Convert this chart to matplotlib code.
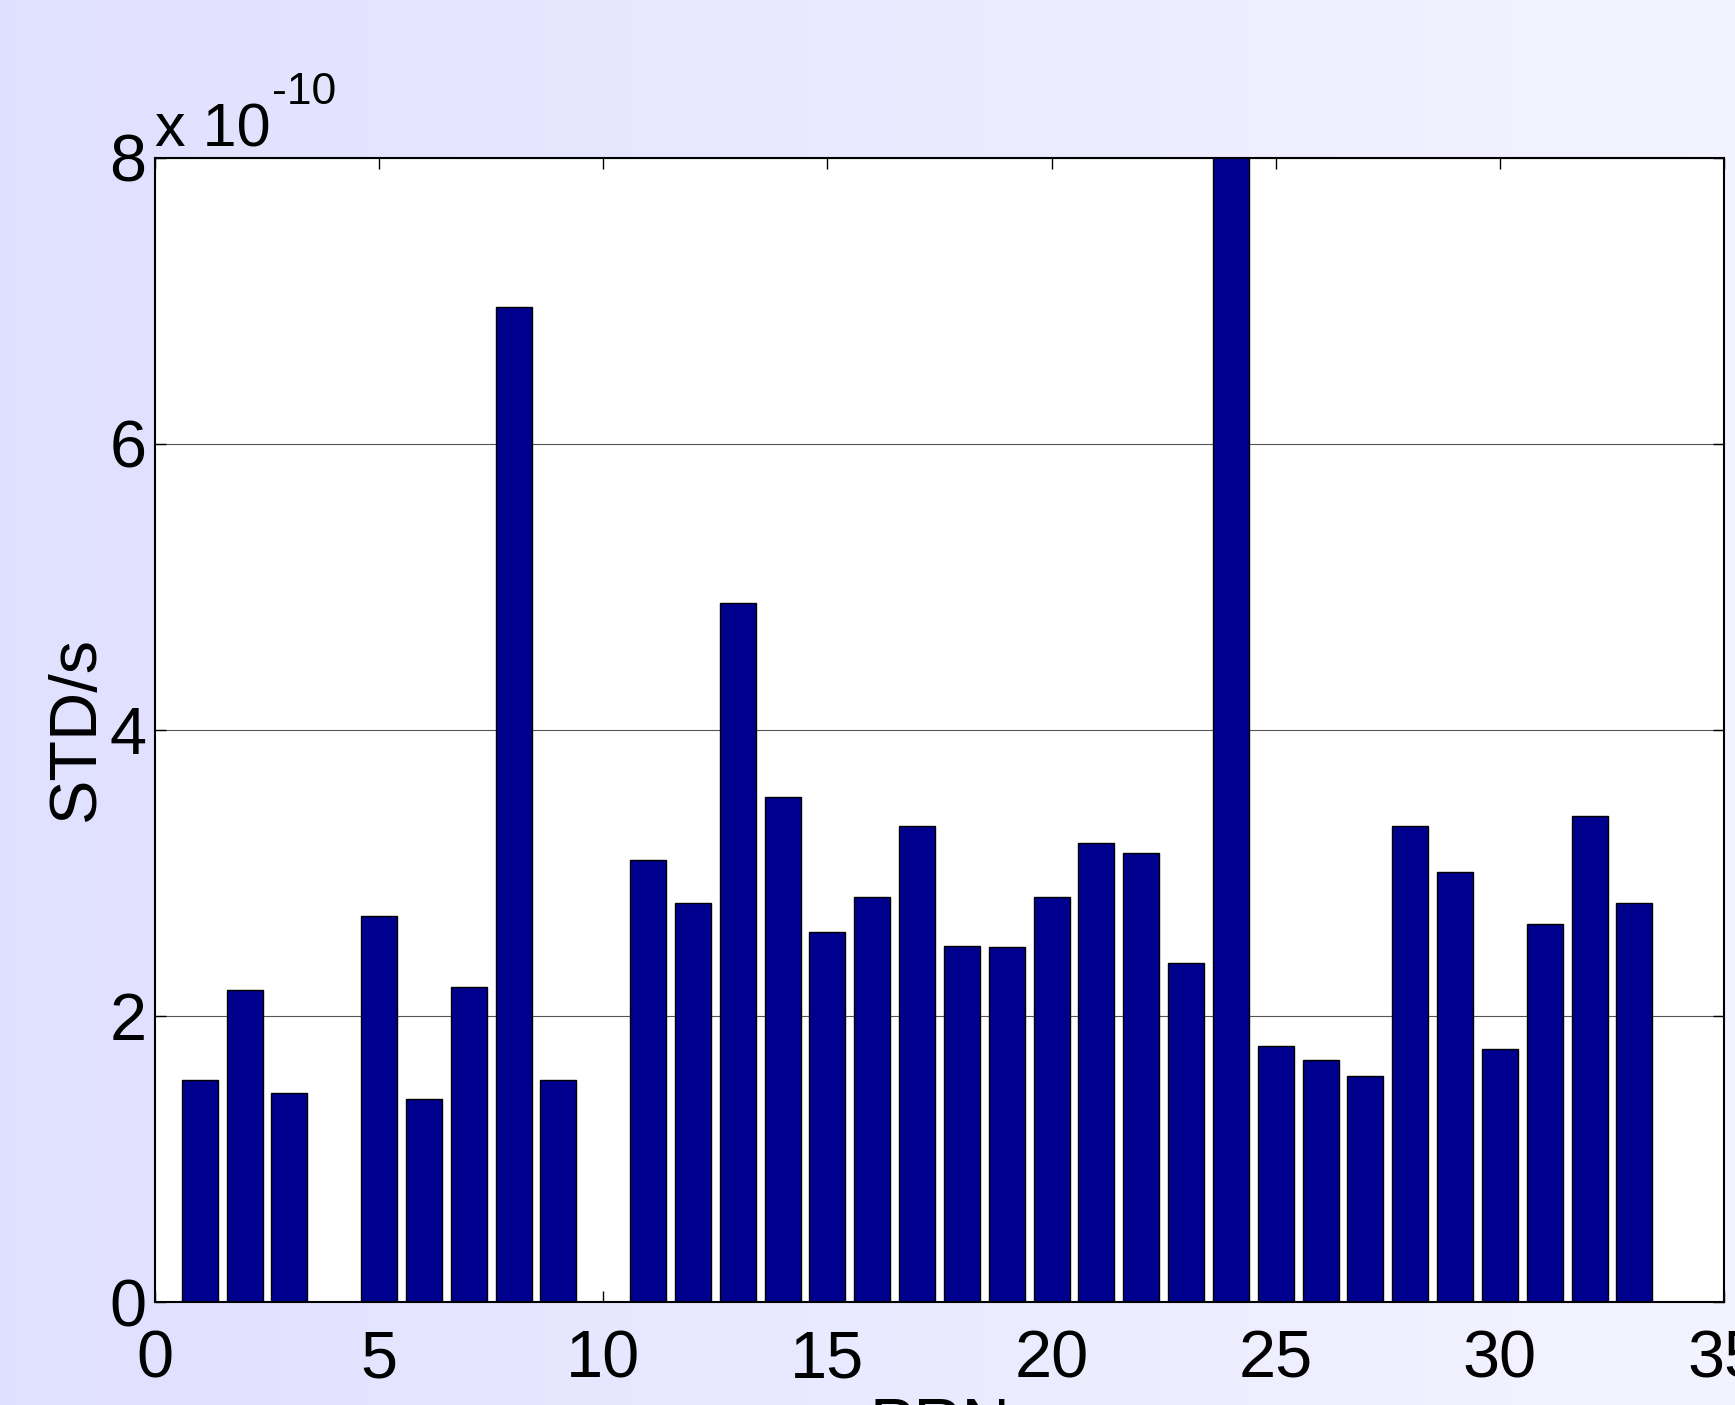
import numpy as np
import matplotlib
matplotlib.use('Agg')
import matplotlib.pyplot as plt

# std per PRN (units of 1e-10 s)
prn = np.arange(1, 34)
std_e10 = [1.55, 2.18, 1.46, 0.0, 2.70, 1.42, 2.20, 6.96, 1.55, 0.0,
           3.09, 2.79, 4.89, 3.53, 2.59, 2.83, 3.33, 2.49, 2.48, 2.83,
           3.21, 3.14, 2.37, 8.40, 1.79, 1.69, 1.58, 3.33, 3.01, 1.77,
           2.64, 3.40, 2.79]
std = np.array(std_e10) * 1e-10

yticks = [0, 2e-10, 4e-10, 6e-10, 8e-10]
xticks = [0, 5, 10, 15, 20, 25, 30, 35]

plt.rcParams['font.family'] = ['Liberation Sans', 'DejaVu Sans']

fig = plt.figure(figsize=(17.35, 14.05), dpi=100)

# lavender gradient background
bg = fig.add_axes([0, 0, 1, 1], zorder=-10)
grad = np.linspace(0, 1, 256)[None, :, None]
c0 = np.array([0.878, 0.878, 1.0])
c1 = np.array([0.955, 0.955, 1.0])
bg.imshow(c0 + (c1 - c0) * grad, aspect='auto', extent=[0, 1, 0, 1])
bg.axis('off')

ax = fig.add_axes([0.0893, 0.0733, 0.9044, 0.8143])
ax.bar(prn, std, width=0.8, color='#00008f', edgecolor='black', linewidth=1, zorder=2)

ax.set_xlim(0, 35)
ax.set_ylim(0, 8e-10)
ax.set_xticks(xticks)
ax.set_yticks(yticks)
ax.set_yticklabels(['%g' % (v / 1e-10) for v in yticks])
ax.tick_params(direction='in', top=True, right=True, length=8, width=1,
               labelsize=48)
ax.tick_params(axis='x', pad=20)
ax.tick_params(axis='y', pad=6)
ax.yaxis.grid(True, color='#555555', linewidth=0.8, zorder=0)
ax.set_axisbelow(True)
for s in ax.spines.values():
    s.set_linewidth(1.5)

# matlab style exponent label
t = ax.text(0.0, 1.0096, 'x 10', transform=ax.transAxes, fontsize=44,
            ha='left', va='baseline')
ax.annotate('-10', xy=(1, 0), xycoords=t, xytext=(1, 40),
            textcoords='offset points', fontsize=32, ha='left', va='baseline')

ax.set_ylabel('STD/s', fontsize=48, ha='center', va='center')
ax.yaxis.set_label_coords(-0.0497, 0.5)
ax.set_xlabel('PRN', fontsize=48, va='top')
ax.xaxis.set_label_coords(0.5, -0.083)

fig.savefig('out.png', dpi=100)
